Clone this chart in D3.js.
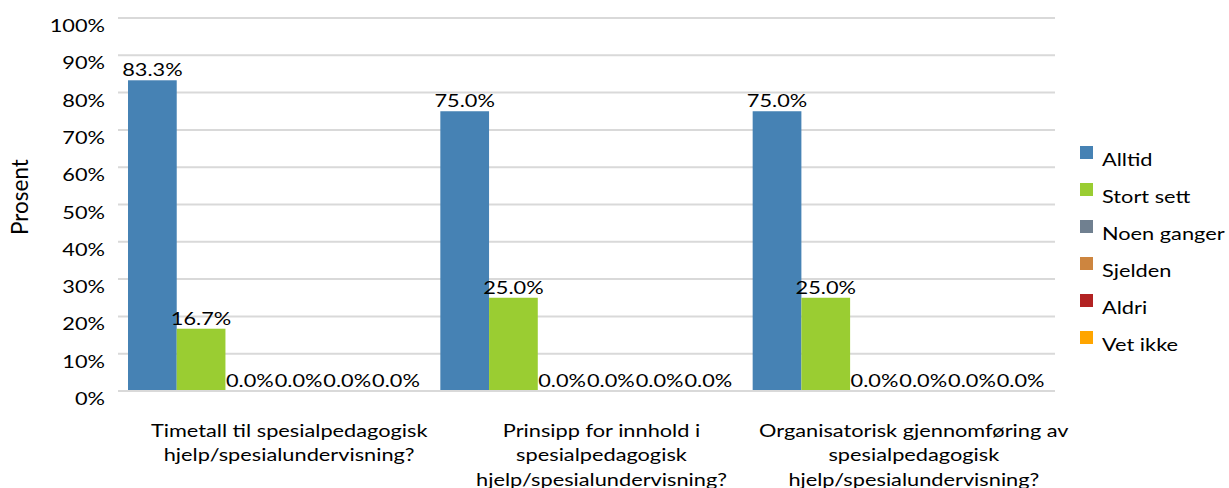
<!DOCTYPE html>
<html><head><meta charset="utf-8">
<script src="https://cdn.jsdelivr.net/npm/d3@7"></script>
<style>body{margin:0;background:#fff}svg{display:block}text{font-family:Lato,"Open Sans",sans-serif;fill:#000}</style>
</head><body>
<svg id="chart" width="1229" height="488"></svg>
<script>
const categories = [
  ["Timetall til spesialpedagogisk", "hjelp/spesialundervisning?"],
  ["Prinsipp for innhold i", "spesialpedagogisk", "hjelp/spesialundervisning?"],
  ["Organisatorisk gjennomføring av", "spesialpedagogisk", "hjelp/spesialundervisning?"]
];
const seriesNames = ["Alltid", "Stort sett", "Noen ganger", "Sjelden", "Aldri", "Vet ikke"];
const seriesColors = ["#4682B4", "#9ACD32", "#708090", "#CD853F", "#B22222", "#FFA500"];
const alltid = [83.3, 75.0, 75.0];
const stortSett = [16.7, 25.0, 25.0];
const noenGanger = [0, 0, 0];
const sjelden = [0, 0, 0];
const aldri = [0, 0, 0];
const vetIkke = [0, 0, 0];
const seriesValues = [alltid, stortSett, noenGanger, sjelden, aldri, vetIkke];
const yTicks = [0, 10, 20, 30, 40, 50, 60, 70, 80, 90, 100];

const SX = 1.28;   // horizontal text stretch seen in the reference
const FS = "17px";
const svg = d3.select("#chart");
const mLeft = 118, mRight = 1055, mTop = 18, mBottom = 391;
const x0 = d3.scaleBand().domain(d3.range(categories.length)).range([mLeft, mRight]).paddingInner(0).paddingOuter(0);
const groupPad = 10;
const x1 = d3.scaleBand().domain(d3.range(seriesNames.length)).range([groupPad, x0.bandwidth() - groupPad]).padding(0);
const y = d3.scaleLinear().domain([0, 100]).range([mBottom, mTop]);

// gridlines
svg.append("g").selectAll("line").data(yTicks).join("line")
  .attr("x1", mLeft).attr("x2", mRight)
  .attr("y1", d => y(d)).attr("y2", d => y(d))
  .attr("stroke", "#D9D9D9").attr("stroke-width", 2);

// y axis labels
const yAxis = d3.axisLeft(y).tickValues(yTicks).tickFormat(d => d + "%").tickSize(0).tickPadding(0);
const ya = svg.append("g").attr("transform", `translate(${mLeft},0)`).call(yAxis);
ya.select(".domain").remove();
ya.selectAll("text")
  .attr("x", 0).attr("dy", null).attr("y", 0)
  .attr("transform", `translate(-13,13.5) scale(${SX},1)`)
  .style("font-size", FS).style("font-family", "Lato, sans-serif").attr("fill", "#000");

// axis title
svg.append("text").attr("transform", `translate(28,197) rotate(-90)`)
  .attr("text-anchor", "middle").style("font-size", "22.5px").text("Prosent");

// bars
const data = [];
categories.forEach((c, ci) => seriesNames.forEach((s, si) => data.push({ci, si, v: seriesValues[si][ci]})));
svg.append("g").selectAll("rect").data(data).join("rect")
  .attr("x", d => x0(d.ci) + x1(d.si))
  .attr("width", x1.bandwidth())
  .attr("y", d => y(d.v))
  .attr("height", d => y(0) - y(d.v))
  .attr("fill", d => seriesColors[d.si]);

// bottom axis line
svg.append("line").attr("x1", mLeft).attr("x2", mRight).attr("y1", y(0)).attr("y2", y(0))
  .attr("stroke", "#D9D9D9").attr("stroke-width", 2);

// value labels
svg.append("g").selectAll("text").data(data).join("text")
  .attr("transform", d => `translate(${x0(d.ci) + x1(d.si) + x1.bandwidth() / 2},${y(d.v) - 4}) scale(${SX},1)`)
  .attr("text-anchor", "middle").style("font-size", FS)
  .text(d => d.v.toFixed(1) + "%");

// category labels
const cg = svg.append("g").selectAll("text").data(categories).join("text")
  .attr("text-anchor", "middle").style("font-size", FS)
  .attr("transform", (d, i) => `translate(${x0(i) + x0.bandwidth() / 2 + 15},437) scale(${SX},1)`);
cg.selectAll("tspan").data(d => d).join("tspan")
  .attr("x", 0)
  .attr("dy", (d, i) => i === 0 ? 0 : 24.5)
  .text(d => d);

// legend
const lg = svg.append("g").selectAll("g").data(seriesNames).join("g")
  .attr("transform", (d, i) => `translate(1080,${146 + i * 37})`);
lg.append("rect").attr("x", 0).attr("y", 0).attr("width", 13).attr("height", 13)
  .attr("fill", (d, i) => seriesColors[i]);
lg.append("text").attr("transform", `translate(22,19.7) scale(${SX},1)`)
  .style("font-size", FS).text(d => d);
</script>
</body></html>
